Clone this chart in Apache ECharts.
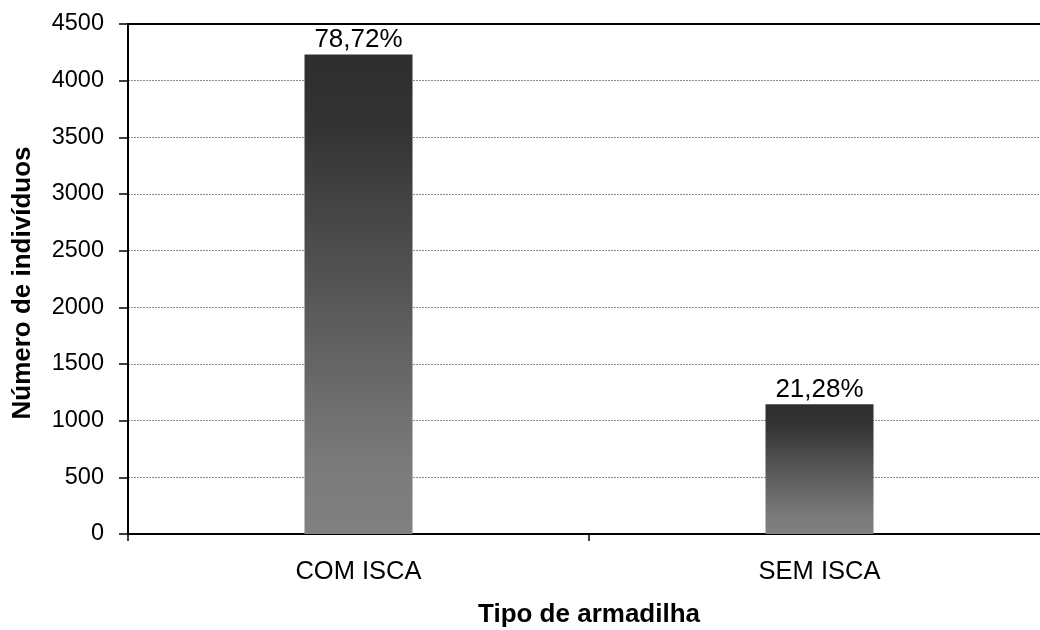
<!DOCTYPE html>
<html><head><meta charset="utf-8">
<script src="https://cdn.jsdelivr.net/npm/echarts@6/dist/echarts.min.js"></script>
<style>html,body{margin:0;padding:0;background:#fff;overflow:hidden;width:1040px;height:630px}#c{width:1056px;height:630px}</style>
</head><body><div id="c"></div>
<script>
const categories = ['COM ISCA', 'SEM ISCA'];
const values = [4231, 1144];
const percentLabels = ['78,72%', '21,28%'];
const yTitle = 'Número de indivíduos';
const xTitle = 'Tipo de armadilha';

const chart = echarts.init(document.getElementById('c'), null, {renderer: 'canvas'});
const FONT = '"Liberation Sans", Arial, sans-serif';
chart.setOption({
  animation: false,
  backgroundColor: '#fff',
  grid: {left: 128, top: 24, bottom: 96, right: 6, containLabel: false},
  xAxis: [{
    type: 'category', data: categories, position: 'bottom',
    axisLine: {lineStyle: {color: '#000', width: 2}},
    axisTick: {show: true, inside: false, length: 7, lineStyle: {color: '#000', width: 1.5}},
    axisLabel: {color: '#000', fontFamily: FONT, fontSize: 25.5, margin: 25},
    splitLine: {show: false}
  }, {
    type: 'category', data: categories, position: 'top',
    axisLine: {lineStyle: {color: '#000', width: 2}},
    axisTick: {show: false}, axisLabel: {show: false}
  }],
  yAxis: {
    type: 'value', min: 0, max: 4500, interval: 500,
    axisLine: {show: true, lineStyle: {color: '#000', width: 2}},
    axisTick: {show: true, length: 9, lineStyle: {color: '#000', width: 1.5}},
    axisLabel: {color: '#000', fontFamily: FONT, fontSize: 23.5, margin: 24, formatter: v => String(v)},
    splitLine: {show: true, lineStyle: {color: '#8a8a8a', width: 1, type: [2, 1]}}
  },
  series: [{
    type: 'bar', xAxisIndex: 0,
    data: values, barWidth: 108,
    itemStyle: {
      color: new echarts.graphic.LinearGradient(0, 0, 0, 1, [
        {offset: 0, color: '#2e2e2e'},
        {offset: 0.15, color: '#333333'},
        {offset: 0.85, color: '#7a7a7a'},
        {offset: 1, color: '#808080'}
      ])
    },
    label: {
      show: true, position: 'top', distance: 2,
      color: '#000', fontFamily: FONT, fontSize: 26,
      formatter: p => percentLabels[p.dataIndex]
    }
  }],
  graphic: [{
    type: 'text', x: 589, y: 615,
    style: {text: xTitle, fill: '#000', font: 'bold 26px ' + FONT, textAlign: 'center', textVerticalAlign: 'middle'}
  }, {
    type: 'text', x: 23, y: 283, rotation: Math.PI / 2,
    style: {text: yTitle, fill: '#000', font: 'bold 26px ' + FONT, textAlign: 'center', textVerticalAlign: 'middle'}
  }]
});
</script></body></html>
